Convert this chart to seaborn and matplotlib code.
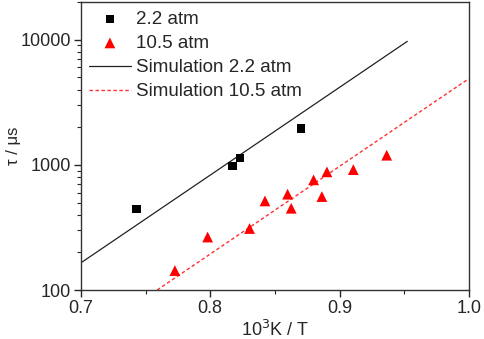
import numpy as np
import pandas as pd
import matplotlib
matplotlib.use('Agg')
import matplotlib.pyplot as plt
import seaborn as sns
from matplotlib.ticker import LogLocator, NullFormatter, FixedLocator, MultipleLocator

# Measured ignition delay times
x_22 = [0.7431, 0.8173, 0.8229, 0.8701]
tau_22 = [445, 982, 1138, 1950]

x_105 = [0.7727, 0.7980, 0.8304, 0.8423, 0.8598, 0.8626, 0.8799, 0.8863, 0.8902, 0.9106, 0.9364]
tau_105 = [143, 265, 310, 515, 583, 450, 759, 558, 879, 916, 1194]

# Simulation lines
sim_x_22 = [0.7005, 0.9523]
sim_tau_22 = [166, 9700]
sim_x_105 = [0.759, 0.9998]
sim_tau_105 = [100, 4877]

sns.set_style('ticks')
plt.rcParams['font.family'] = ['Liberation Sans', 'DejaVu Sans']

fig = plt.figure(figsize=(4.84, 3.39), dpi=100)
ax = fig.add_axes([0.167, 0.1445, 0.802, 0.8495])

sns.scatterplot(x=x_22, y=tau_22, marker='s', color='black', s=36, edgecolor='none',
                label='2.2 atm', ax=ax, zorder=3)
sns.scatterplot(x=x_105, y=tau_105, marker='^', color='#ff0000', s=60, edgecolor='none',
                label='10.5 atm', ax=ax, zorder=3)
sns.lineplot(x=sim_x_22, y=sim_tau_22, color='#222222', lw=0.9,
             label='Simulation 2.2 atm', ax=ax)
sns.lineplot(x=sim_x_105, y=sim_tau_105, color='#ff3030', lw=1.0, linestyle=(0, (2.5, 1.8)),
             label='Simulation 10.5 atm', ax=ax)

ax.set_yscale('log')
ax.set_xlim(0.7, 1.0)
ax.set_ylim(100, 20000)
ax.xaxis.set_major_locator(FixedLocator([0.7, 0.8, 0.9, 1.0]))
ax.xaxis.set_minor_locator(MultipleLocator(0.05))
ax.set_xticklabels(['0.7', '0.8', '0.9', '1.0'])
ax.yaxis.set_major_locator(FixedLocator([100, 1000, 10000]))
ax.yaxis.set_minor_locator(LogLocator(base=10, subs=np.arange(2, 10)))
ax.yaxis.set_minor_formatter(NullFormatter())
ax.set_yticklabels(['100', '1000', '10000'])

ax.tick_params(axis='both', which='major', direction='out', length=5, width=1,
               labelsize=13, pad=2, top=False, right=False)
ax.tick_params(axis='both', which='minor', direction='out', length=3, width=0.8,
               top=False, right=False)
for sp in ax.spines.values():
    sp.set_visible(True)
    sp.set_linewidth(1.0)
    sp.set_color('#333333')

ax.set_xlabel('10$^3$K / T', fontsize=13, labelpad=2)
ax.set_ylabel('τ / μs', fontsize=12)
ax.yaxis.set_label_coords(-0.155, 0.5)

leg = ax.legend(loc='upper left', frameon=False, fontsize=13.5, handlelength=2.2,
                handletextpad=0.3, labelspacing=0.38, borderpad=0.1, borderaxespad=0.35,
                bbox_to_anchor=(0.0, 1.0))

fig.savefig('out.png', dpi=100)
